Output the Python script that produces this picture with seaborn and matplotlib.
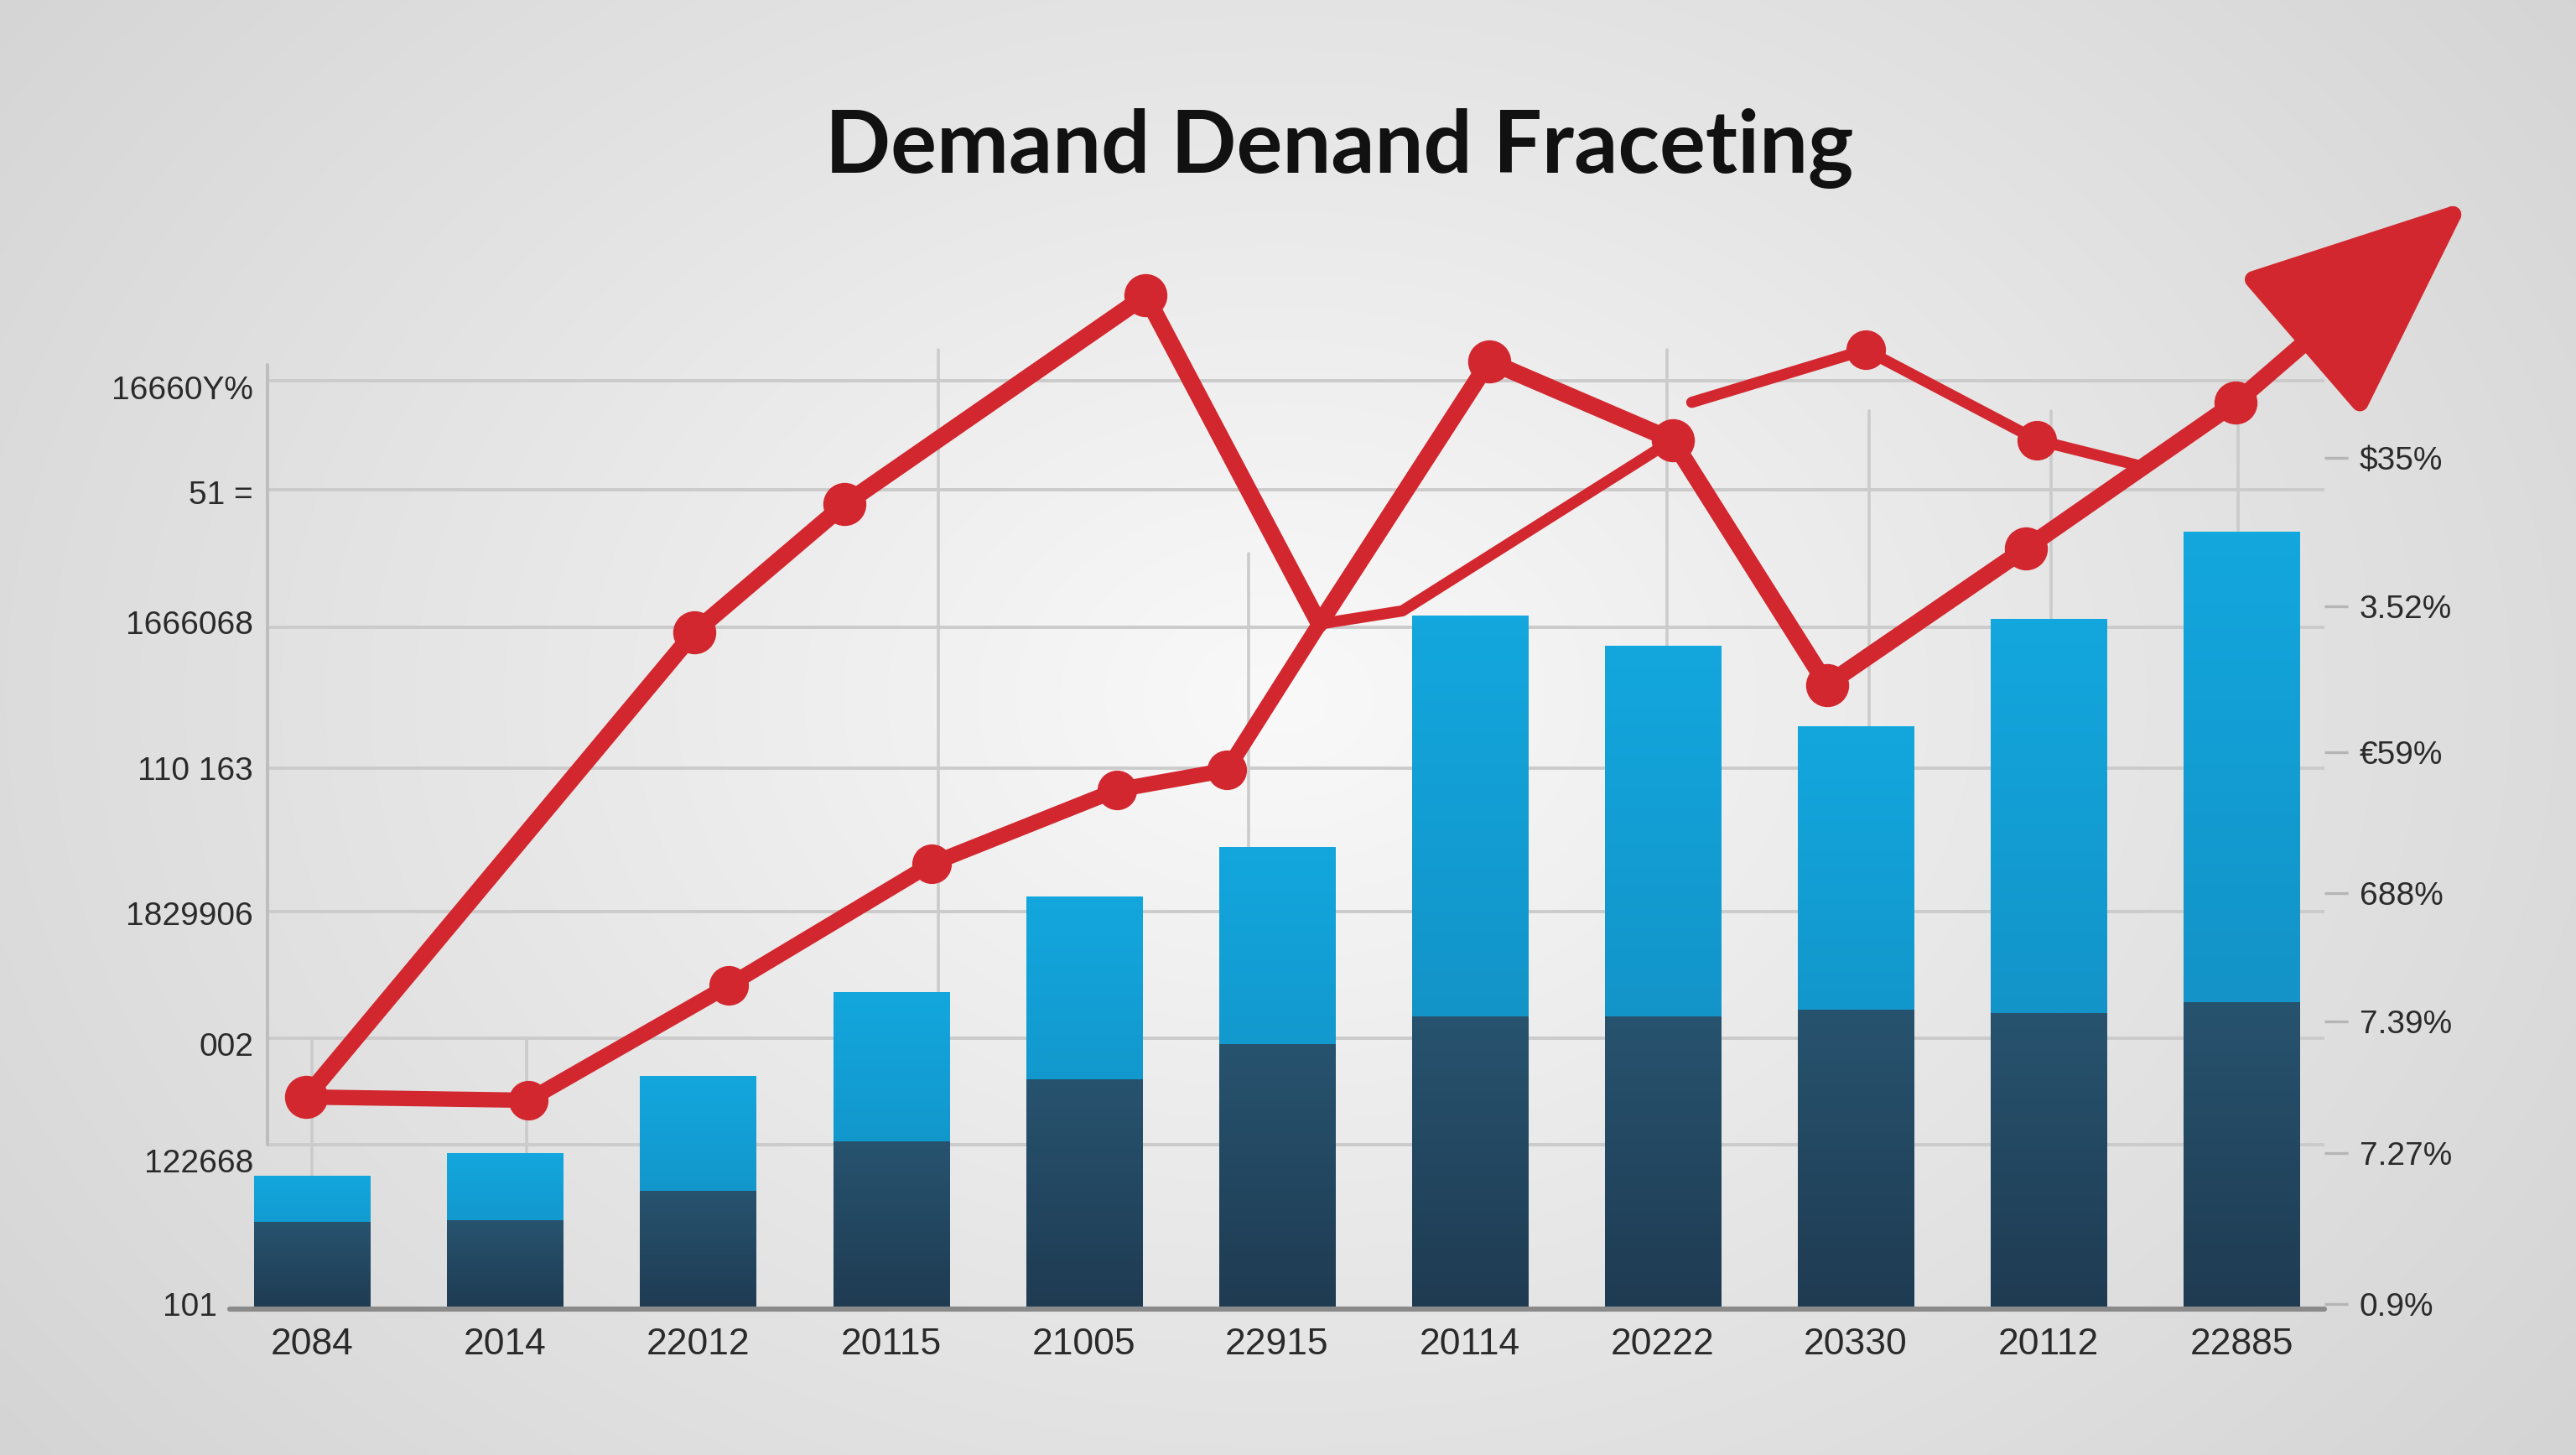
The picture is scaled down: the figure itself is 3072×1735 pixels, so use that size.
"""Demand forecasting chart: stacked bars + red trend lines with arrow."""

import matplotlib

matplotlib.use("Agg")
import matplotlib.pyplot as plt
import numpy as np
import pandas as pd
import seaborn as sns
from matplotlib.colors import LinearSegmentedColormap
from matplotlib.patches import FancyArrowPatch

TITLE = "Demand Denand Fraceting"

# bars
YEARS = ["2084", "2014", "22012", "20115", "21005", "22915",
         "20114", "20222", "20330", "20112", "22885"]
TOTAL_DEMAND = [16.2, 19.0, 28.4, 38.6, 50.2, 56.2, 84.4, 80.8, 71.0, 84.0, 94.6]
BASE_DEMAND = [10.6, 10.8, 14.4, 20.4, 28.0, 32.2, 35.6, 35.6, 36.4, 36.0, 37.4]

# red lines (x in bar-index units)
FORECAST_X = [-0.03, 1.98, 2.76, 4.32, 5.22, 6.10, 7.05, 7.85, 8.88, 9.97]
FORECAST_Y = [25.8, 82.4, 98.0, 123.4, 83.4, 115.4, 105.8, 76.0, 92.6, 110.4]
ARROW_TIP_X = 11.18
ARROW_TIP_Y = 135.0

ACTUAL_X = [-0.03, 1.12, 2.16, 3.21, 4.17, 4.74, 5.22]
ACTUAL_Y = [25.8, 25.4, 39.4, 54.2, 63.2, 65.6, 83.4]
LINK_X = [5.22, 5.65, 7.05]
LINK_Y = [83.4, 85.0, 105.8]
BRANCH_X = [7.15, 8.05, 8.94, 9.45]
BRANCH_Y = [110.4, 116.8, 105.8, 102.8]

# axis labels
LEFT_TICKS = [112.2, 99.4, 83.6, 65.8, 48.2, 32.2, 18.0, 0.6]
LEFT_LABELS = ["16660Y%", "51 =", "1666068", "110 163", "1829906", "002", "122668", "101    "]
RIGHT_TICKS = [103.6, 85.6, 67.8, 50.6, 35.0, 19.0, 0.6]
RIGHT_LABELS = ["\\$35%", "3.52%", "€59%", "688%", "7.39%", "7.27%", "0.9%"]

# grid layout (style)
HGRID = [113.0, 99.8, 83.0, 65.8, 48.4, 33.0, 20.0]
VGRID = [(3.245, 116.8), (4.855, 92.0), (7.02, 116.8), (8.07, 109.4),
         (9.01, 109.4), (9.98, 109.4), (0.0, 33.0), (1.11, 33.0)]
XLIM = (-0.426, 10.43)
YLIM = (0, 137.4)

RED = "#d3272f"
GRID = "#cbcbcb"

sns.set_theme(style="white")
plt.rcParams["font.family"] = ["Liberation Sans", "DejaVu Sans"]


def _gradient_fill(ax, patch, top_color, bottom_color, zorder):
    x0, y0 = patch.get_x(), patch.get_y()
    w, h = patch.get_width(), patch.get_height()
    grad = np.linspace(0, 1, 256).reshape(-1, 1)
    cmap = LinearSegmentedColormap.from_list("g", [top_color, bottom_color])
    im = ax.imshow(grad, cmap=cmap, extent=(x0, x0 + w, y0, y0 + h),
                   origin="upper", aspect="auto", zorder=zorder, interpolation="bilinear")
    im.set_clip_path(patch)


def main() -> None:
    fig = plt.figure(figsize=(15.36, 8.675), dpi=200)

    # radial background
    bg = fig.add_axes([0, 0, 1, 1], zorder=-5)
    yy, xx = np.mgrid[0:1:300j, 0:1.77:530j]
    r = np.sqrt(((xx - 0.88) / 1.2) ** 2 + ((yy - 0.48) / 0.9) ** 2)
    bg.imshow(np.clip(r, 0, 1), cmap=LinearSegmentedColormap.from_list(
        "bg", ["#f9f9f9", "#e6e6e6", "#d4d4d4"]), aspect="auto",
        extent=(0, 1, 0, 1), origin="upper", interpolation="bilinear")
    bg.set_axis_off()

    ax = fig.add_axes([140 / 1568, 1 - 797 / 886, (1415 - 140) / 1568, (797 - 110) / 886])
    ax.set_facecolor("none")

    df = pd.DataFrame({"year": YEARS, "total": TOTAL_DEMAND, "base": BASE_DEMAND})
    sns.barplot(data=df, x="year", y="total", order=YEARS, color="#1496cb",
                width=0.6, saturation=1, ax=ax, zorder=2)
    sns.barplot(data=df, x="year", y="base", order=YEARS, color="#22496a",
                width=0.6, saturation=1, ax=ax, zorder=2.6)
    patches = list(ax.patches)
    n = len(YEARS)
    for p in patches[:n]:
        p.set_edgecolor("none")
        _gradient_fill(ax, p, "#12a7de", "#1486b9", 2.5)
    for p in patches[n:]:
        p.set_edgecolor("none")
        p.set_zorder(2.6)
        _gradient_fill(ax, p, "#27536f", "#1f3b52", 2.7)

    # grid
    for yv in HGRID:
        ax.plot([-0.23, XLIM[1]], [yv, yv], color=GRID, lw=1.4, zorder=1, solid_capstyle="butt")
    for xv, ytop in VGRID:
        ax.plot([xv, xv], [0, ytop], color=GRID, lw=1.3, zorder=1)
    ax.plot([-0.23, -0.23], [20.0, 115.0], color="#bdbdbd", lw=1.4, zorder=1)
    ax.plot([XLIM[0], XLIM[1]], [0, 0], color="#8a8a8a", lw=2.2, zorder=3, clip_on=False)

    # red lines
    ax.plot(FORECAST_X, FORECAST_Y, color=RED, lw=7.3, marker="o", ms=17.5,
            markevery=[0, 1, 2, 3, 5, 6, 7, 8, 9], zorder=5,
            solid_joinstyle="round", solid_capstyle="round", clip_on=False)
    ax.plot(ACTUAL_X, ACTUAL_Y, color=RED, lw=6.6, marker="o", ms=16,
            markevery=[0, 1, 2, 3, 4, 5], zorder=5, solid_joinstyle="round",
            solid_capstyle="round")
    ax.plot(LINK_X, LINK_Y, color=RED, lw=4.8, zorder=5, solid_joinstyle="round")
    ax.plot(BRANCH_X, BRANCH_Y, color=RED, lw=4.8, marker="o", ms=16,
            markevery=[1, 2], zorder=5, solid_joinstyle="round")
    arrow = FancyArrowPatch((FORECAST_X[-1], FORECAST_Y[-1]), (ARROW_TIP_X, ARROW_TIP_Y),
                            arrowstyle="-|>,head_length=8.3,head_width=3.5",
                            mutation_scale=10, color=RED, lw=7.3, zorder=6,
                            shrinkA=0, shrinkB=0, clip_on=False)
    ax.add_patch(arrow)

    ax.set_xlim(*XLIM)
    ax.set_ylim(*YLIM)
    for s in ax.spines.values():
        s.set_visible(False)
    ax.set_xlabel("")
    ax.set_ylabel("")
    ax.set_xticks(range(n))
    ax.set_xticklabels(YEARS, fontsize=16, color="#2a2a2a")
    ax.tick_params(axis="x", length=0, pad=8)
    ax.set_yticks(LEFT_TICKS)
    ax.set_yticklabels(LEFT_LABELS, fontsize=14, color="#2a2a2a")
    ax.tick_params(axis="y", length=0, pad=-10)

    ax2 = ax.twinx()
    ax2.set_ylim(*YLIM)
    for s in ax2.spines.values():
        s.set_visible(False)
    ax2.set_yticks(RIGHT_TICKS)
    ax2.set_yticklabels(RIGHT_LABELS, fontsize=14, color="#2a2a2a")
    ax2.tick_params(axis="y", length=10, width=1.2, color="#b5b5b5", pad=5, direction="out")

    fig.text(0.520, 0.898, TITLE, fontsize=37, fontweight="bold", family=["Lato", "DejaVu Sans"],
             color="#111111", ha="center", va="center")

    fig.savefig("out.png", dpi=200)


if __name__ == "__main__":
    main()
